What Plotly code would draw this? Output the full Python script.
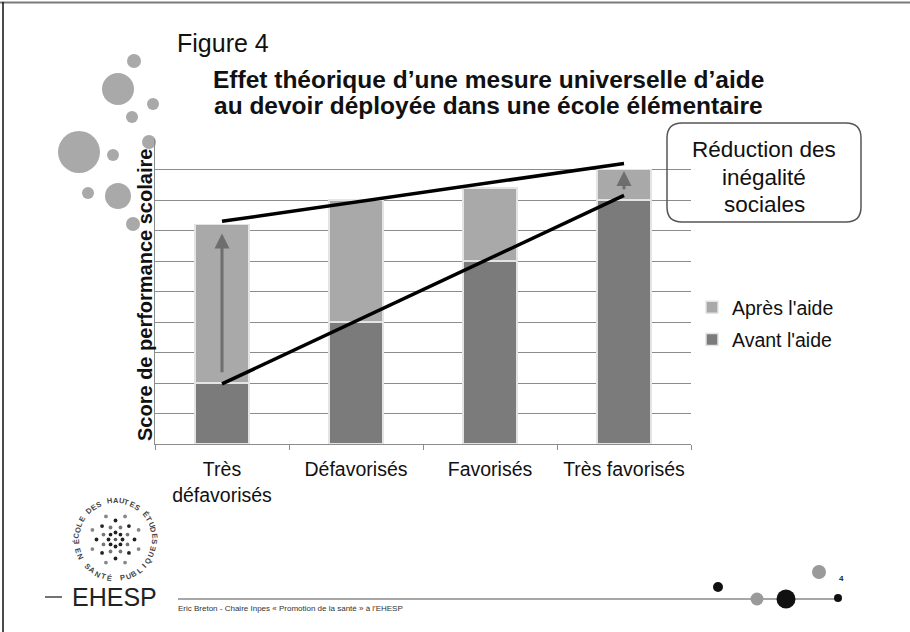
import math
import plotly.graph_objects as go

# ---------------- data ----------------
categories = ["Très<br>défavorisés", "Défavorisés", "Favorisés", "Très favorisés"]
avant_aide = [2.0, 4.0, 6.0, 8.0]          # score before help
gain_aide = [5.2, 4.0, 2.4, 1.0]           # additional score after help
line_cats = [categories[0], categories[3]]
line_apres = [7.3, 9.2]                    # gradient line after help
line_avant = [1.97, 8.15]                  # gradient line before help
arrow_cats = [categories[0], categories[3]]
arrow_tail = [2.3, 8.3]
arrow_head = [6.9, 8.95]

# ---------------- geometry helpers ----------------
W, H = 910, 632
L, R, T, B = 155, 219, 139, 188
PW = W - L - R
PH = H - T - B


def px(x):
    return (x - L) / PW


def py(y):
    return (H - B - y) / PH


FONT = "Liberation Sans, Arial, sans-serif"

fig = go.Figure()
fig.add_bar(x=categories, y=avant_aide, name="Avant l'aide",
            marker=dict(color="#7b7b7b", line=dict(color="#e4e4e4", width=1.5)),
            legendgroup="a", legendrank=2)
fig.add_bar(x=categories, y=gain_aide, name="Après l'aide",
            marker=dict(color="#a9a9a9", line=dict(color="#e4e4e4", width=1.5)),
            legendgroup="b", legendrank=1)
fig.add_scatter(x=line_cats, y=line_apres, mode="lines", showlegend=False,
                line=dict(color="black", width=3.5), hoverinfo="skip")
fig.add_scatter(x=line_cats, y=line_avant, mode="lines", showlegend=False,
                line=dict(color="black", width=3.5), hoverinfo="skip")

ann = []
for c, t0, t1 in zip(arrow_cats, arrow_tail, arrow_head):
    ann.append(dict(x=c, y=t1, ax=c, ay=t0, xref="x", yref="y", axref="x", ayref="y",
                    text="", showarrow=True, arrowhead=2, arrowsize=1, arrowwidth=3,
                    arrowcolor="#6e6e6e"))


def txt(text, x, y, size, xanchor="center", yanchor="middle", angle=0, color="#111", bold=False):
    if bold:
        text = "<b>" + text + "</b>"
    ann.append(dict(text=text, x=px(x), y=py(y), xref="paper", yref="paper",
                    showarrow=False, xanchor=xanchor, yanchor=yanchor, textangle=angle,
                    font=dict(family=FONT, size=size, color=color)))


txt("Figure 4", 175, 43, 25, xanchor="left")
txt("Effet théorique d’une mesure universelle d’aide", 488, 79, 24.5, bold=True)
txt("au devoir déployée dans une école élémentaire", 488, 105, 24.5, bold=True)
txt("Score de performance scolaire", 145, 295, 20, angle=-90, bold=True)
txt("Réduction des", 764, 149, 22.5)
txt("inégalité", 764, 177, 22.5)
txt("sociales", 764, 204, 22.5)
txt("Eric Breton - Chaire Inpes « Promotion de la santé » à l'EHESP", 176, 608, 8,
    xanchor="left", color="#333")
txt("EHESP", 114, 597, 25, color="#222")
txt("4", 841, 578, 8, color="#222", bold=True)

# circular logo text
cx, cy, rr = 115.5, 539.5, 39
upper = "ÉCOLE DES HAUTES ÉTUDES"
n = len(upper)
for i, ch in enumerate(upper):
    th = 183 - i * (186 / (n - 1))
    x = cx + rr * math.cos(math.radians(th))
    y = cy - rr * math.sin(math.radians(th))
    if ch != " ":
        txt(ch, x, y, 7.5, angle=90 - th, color="#444", bold=True)
lower = "EN SANTÉ PUBLIQUE"
n = len(lower)
for i, ch in enumerate(lower):
    th = 196 + i * (150 / (n - 1))
    x = cx + rr * math.cos(math.radians(th))
    y = cy - rr * math.sin(math.radians(th))
    if ch != " ":
        txt(ch, x, y, 7.5, angle=270 - th, color="#444", bold=True)

shapes = []


def circle(x, y, r, color, layer="above"):
    shapes.append(dict(type="circle", xref="paper", yref="paper",
                       x0=px(x - r), x1=px(x + r), y0=py(y + r), y1=py(y - r),
                       fillcolor=color, line=dict(width=0), layer=layer))


def seg(x0, y0, x1, y1, color, width):
    shapes.append(dict(type="line", xref="paper", yref="paper",
                       x0=px(x0), y0=py(y0), x1=px(x1), y1=py(y1),
                       line=dict(color=color, width=width)))


# frame
seg(0, 2.5, 910, 2.5, "#7a7a7a", 2)
seg(3, 2, 3, 632, "#111", 1.5)

# decorative bubbles
for (x, y, r) in [(134, 61, 7), (118, 89, 16), (153, 104, 6), (132, 117, 6),
                  (79, 152, 21), (113, 155, 6), (149, 142, 7), (88, 193, 6),
                  (118, 196, 13), (133, 224, 7)]:
    circle(x, y, r, "#a9a9a9", layer="below")

# rounded box
x0, x1, y0, y1, r = 667, 861, 123, 222, 15
path = (f"M {px(x0 + r)},{py(y0)} L {px(x1 - r)},{py(y0)} "
        f"Q {px(x1)},{py(y0)} {px(x1)},{py(y0 + r)} L {px(x1)},{py(y1 - r)} "
        f"Q {px(x1)},{py(y1)} {px(x1 - r)},{py(y1)} L {px(x0 + r)},{py(y1)} "
        f"Q {px(x0)},{py(y1)} {px(x0)},{py(y1 - r)} L {px(x0)},{py(y0 + r)} "
        f"Q {px(x0)},{py(y0)} {px(x0 + r)},{py(y0)} Z")
shapes.append(dict(type="path", path=path, xref="paper", yref="paper",
                   line=dict(color="#555", width=1.5)))

# footer
seg(45, 597, 62, 597, "#444", 1.5)
seg(178, 599, 838, 599, "#8a8a8a", 1.5)
circle(718, 587, 5, "#111")
circle(757, 599, 6.5, "#9a9a9a")
circle(786, 599, 9.5, "#111")
circle(838, 598, 4, "#111")
circle(819, 572, 7, "#9a9a9a")

# logo dots
circle(cx, cy, 1.8, "#555")
for k, (rad, off, col) in enumerate([(7, 0, "#222"), (13, 22.5, "#777"),
                                     (19, 0, "#222"), (25, 22.5, "#888")]):
    for j in range(8):
        a = math.radians(off + 45 * j)
        circle(cx + rad * math.cos(a), cy - rad * math.sin(a), 1.9, col)

fig.update_layout(
    width=W, height=H,
    margin=dict(l=L, r=R, t=T, b=B, autoexpand=False),
    barmode="stack", bargap=0.6,
    paper_bgcolor="white", plot_bgcolor="rgba(0,0,0,0)",
    font=dict(family=FONT, color="#111"),
    showlegend=True,
    legend=dict(x=px(692), y=py(288), xanchor="left", yanchor="top",
                traceorder="grouped", font=dict(size=19.5, family=FONT, color="#111"),
                itemwidth=30, tracegroupgap=4, bgcolor="rgba(0,0,0,0)"),
    xaxis=dict(type="category", showline=True, linecolor="#8c8c8c", linewidth=1,
               ticks="outside", tickson="boundaries", ticklen=5, tickcolor="#8c8c8c",
               tickfont=dict(size=19.5, family=FONT, color="#111"), showgrid=False,
               ticklabelstandoff=8),
    yaxis=dict(range=[0, 10], dtick=1, showgrid=True, gridcolor="#8c8c8c", gridwidth=1,
               showticklabels=False, ticks="", showline=True, linecolor="#8c8c8c",
               linewidth=1, zeroline=False),
    annotations=ann, shapes=shapes,
)

fig.write_html("out.html", config={"displayModeBar": False},
               post_script="document.body.style.margin='0';")
